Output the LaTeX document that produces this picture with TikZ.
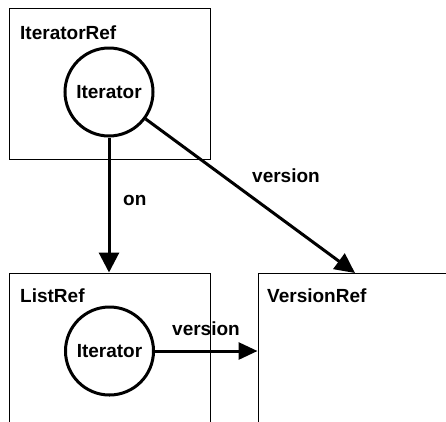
\documentclass[tikz,border=0pt]{standalone}
\usepackage{fontspec}
\setmainfont{Liberation Sans}
\usetikzlibrary{arrows.meta}
\begin{document}
\begin{tikzpicture}[x=1pt,y=-1pt,
  lbl/.style={font=\fontsize{19}{22}\selectfont\bfseries, inner sep=0pt, anchor=base west},
  refbox/.style={draw, line width=1pt, rectangle, inner sep=0pt},
  obj/.style={draw, circle, line width=3pt, minimum size=88pt, inner sep=0pt, font=\fontsize{19}{22}\selectfont\bfseries},
  conn/.style={line width=3pt}
]
\useasboundingbox (0,0) rectangle (446,421);
% boxes
\node[refbox, minimum width=201pt, minimum height=151pt] (itref) at (109.5,83.5) {};
\node[refbox, minimum width=201pt, minimum height=170pt] (listref) at (109.5,358) {};
\node[refbox, minimum width=202pt, minimum height=170pt] (verref) at (359,358) {};
% labels
\node[lbl] (itrefl) at (20,39) {IteratorRef};
\node[lbl] (listrefl) at (20,302) {ListRef};
\node[lbl] (verrefl) at (267,302) {VersionRef};
% circles
\node[obj, fill=white] (it1) at (109,92) {Iterator};
\node[obj, fill=white] (it2) at (109.5,351) {Iterator};
% connectors
\coordinate (vtop) at (355,273);
\draw[conn, -{Triangle[length=20pt 0 0,width=20pt 0 0]}] (it1) -- (it1 |- listref.north);
\draw[conn, -{Triangle[length=20pt 0 0,width=19pt 0 0]}] (it1) -- (vtop);
\draw[conn, -{Triangle[length=19pt 0 0,width=17pt 0 0]}] (it2) -- (it2 -| verref.west);
% connector labels
\node[lbl] (onl) at (123,205) {on};
\node[lbl] (ver1) at (252,182) {version};
\node[lbl] (ver2) at (172,335) {version};
\end{tikzpicture}
\end{document}
